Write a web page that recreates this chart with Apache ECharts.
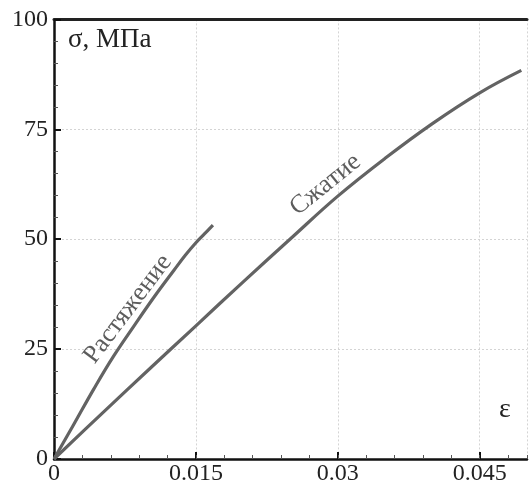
<!DOCTYPE html>
<html>
<head>
<meta charset="utf-8">
<script src="https://cdn.jsdelivr.net/npm/echarts@6/dist/echarts.min.js"></script>
<style>
  html, body { margin: 0; padding: 0; background: #fff; }
  #chart { width: 529px; height: 486px; }
</style>
</head>
<body>
<div id="chart"></div>
<script>
// Stress–strain curves: tension and compression
const tensionStrain = [0, 0.0021, 0.0042, 0.0063, 0.0085, 0.0106, 0.0127, 0.0139, 0.0150, 0.0159, 0.0168];
const tensionStress = [0, 7.9, 15.9, 23.4, 30.4, 36.9, 43.0, 46.4, 49.2, 51.2, 53.2];

const compressionStrain = [0, 0.005, 0.010, 0.015, 0.020, 0.025, 0.030, 0.035, 0.040, 0.045, 0.0494];
const compressionStress = [0, 10.2, 20.3, 30.3, 40.3, 50.1, 59.8, 68.4, 76.3, 83.3, 88.4];

const xTickLabels = ['0', '0.015', '0.03', '0.045'];
const yTickLabels = ['0', '25', '50', '75', '100'];

// Curve captions: [strain, stress, text, angle]
const curveCaptions = [
  [0.00781, 34.1, 'Растяжение', 53],
  [0.0287, 62.4, 'Сжатие', 39]
];

const FONT = "Times New Roman, Liberation Serif, Times, serif";
const lineColor = '#636363';

const chart = echarts.init(document.getElementById('chart'), null, { renderer: 'canvas' });

function pairs(xs, ys) { return xs.map((x, i) => [x, ys[i]]); }

chart.setOption({
  animation: false,
  backgroundColor: '#fff',
  grid: { left: 54, right: 2, top: 19.4, bottom: 25.3, containLabel: false },
  xAxis: [
    {
      type: 'value', min: 0, max: 0.05, interval: 0.015, position: 'bottom',
      axisLine: { show: true, onZero: false, lineStyle: { color: '#111', width: 2.5 } },
      axisTick: { show: true, inside: true, length: 7, lineStyle: { color: '#111', width: 2 } },
      axisLabel: {
        show: true, margin: 3, fontFamily: FONT, fontSize: 24, color: '#222',
        showMaxLabel: false,
        formatter: v => {
          const i = Math.round(v / 0.015);
          return (Math.abs(v - i * 0.015) < 1e-9 && i < xTickLabels.length) ? xTickLabels[i] : '';
        }
      },
      splitLine: { show: true, lineStyle: { color: '#d4d4d4', width: 1, type: [2, 2] } }
    },
    {
      // minor ticks along the strain axis
      type: 'value', min: 0, max: 0.05, interval: 0.003, position: 'bottom',
      axisLine: { show: false, onZero: false },
      axisTick: { show: true, inside: true, length: 4, lineStyle: { color: '#555', width: 1 } },
      axisLabel: { show: false },
      splitLine: { show: false }
    },
    {
      // upper frame line
      type: 'value', min: 0, max: 0.05, position: 'top',
      axisLine: { show: true, onZero: false, lineStyle: { color: '#222', width: 3 } },
      axisTick: { show: false }, axisLabel: { show: false }, splitLine: { show: false }
    }
  ],
  yAxis: {
    type: 'value', min: 0, max: 100, interval: 25,
    axisLine: { show: true, onZero: false, lineStyle: { color: '#111', width: 2.5 } },
    axisTick: { show: true, inside: true, length: 7, lineStyle: { color: '#111', width: 2 } },
    minorTick: { show: true, splitNumber: 5, length: 4, lineStyle: { color: '#555', width: 1 } },
    axisLabel: {
      margin: 6, fontFamily: FONT, fontSize: 24, color: '#222',
      formatter: v => yTickLabels[Math.round(v / 25)] || ''
    },
    splitLine: { show: true, lineStyle: { color: '#d4d4d4', width: 1, type: [2, 2] } }
  },
  graphic: [
    { type: 'text', left: 68, top: 26, style: { text: 'σ, МПа', fontFamily: FONT, fontSize: 27, fill: '#222' } },
    { type: 'text', left: 499, top: 396, style: { text: 'ε', fontFamily: FONT, fontSize: 28, fill: '#222' } }
  ],
  series: [
    {
      name: 'Растяжение', type: 'line', smooth: 0.4, showSymbol: false, symbol: 'none',
      data: pairs(tensionStrain, tensionStress),
      lineStyle: { color: lineColor, width: 3.2 }, z: 3
    },
    {
      name: 'Сжатие', type: 'line', smooth: 0.4, showSymbol: false, symbol: 'none',
      data: pairs(compressionStrain, compressionStress),
      lineStyle: { color: lineColor, width: 3.2 }, z: 3
    },
    {
      type: 'scatter', symbolSize: 0, silent: true, z: 4,
      data: curveCaptions.map(c => ({
        value: [c[0], c[1]],
        label: {
          show: true, position: 'inside', formatter: c[2], rotate: c[3],
          fontFamily: FONT, fontSize: 26, color: '#333', align: 'center', verticalAlign: 'middle'
        }
      }))
    }
  ]
});
</script>
</body>
</html>
